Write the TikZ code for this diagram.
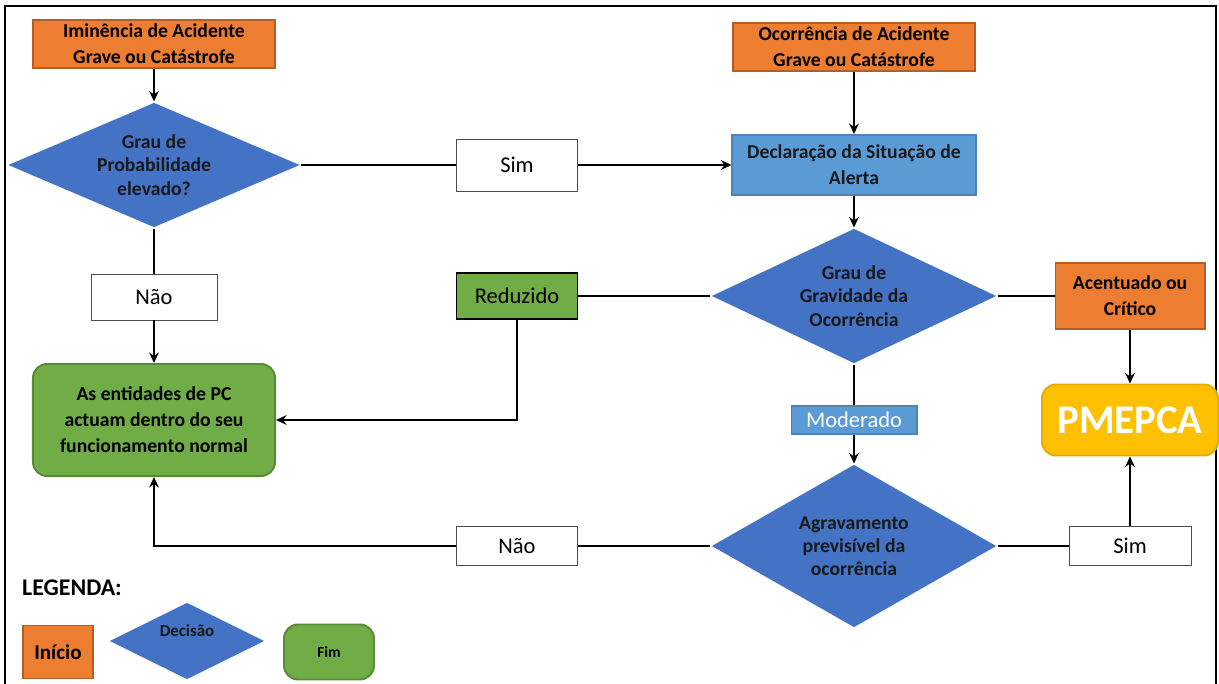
\documentclass[tikz,border=0pt]{standalone}
\usepackage{fontspec}
\setmainfont{Carlito}
\usepackage{xcolor}
\usetikzlibrary{arrows.meta,positioning,shapes.geometric}

\definecolor{iniorange}{HTML}{ED7D31}
\definecolor{decblue}{HTML}{4472C4}
\definecolor{alertblue}{HTML}{5B9BD5}
\definecolor{fimgreen}{HTML}{70AD47}
\definecolor{planyellow}{HTML}{FFC000}

\begin{document}
\begin{tikzpicture}[
  x=0.025cm, y=-0.025cm,
  font=\fontsize{14}{18.5}\selectfont\bfseries,
  startbox/.style={draw=iniorange!75!black, fill=iniorange, align=center,
                   minimum width=6.05cm, minimum height=1.2cm, inner sep=2pt},
  decbox/.style={diamond, fill=decblue, align=center, inner sep=0pt,
                 text=black!90, font=\fontsize{14}{16.5}\selectfont\bfseries},
  answer/.style={draw=black!70, fill=white, line width=0.6pt,
                 font=\fontsize{16}{19}\selectfont, minimum width=3.025cm},
  endbox/.style={draw=fimgreen!80!black, fill=fimgreen, rounded corners=10pt,
                 align=center},
  >={Stealth[length=2.6mm,width=2.4mm]}, line width=1.4pt]
  \def\cL{154}\def\cM{517}\def\cR{854}\def\cP{1130}
  \useasboundingbox (0,0) rectangle (1219,684);
  \draw[line width=1.2pt] (5,684) -- (5,6) -- (1216,6) -- (1216,684);
  % top row
  \node[startbox] (imin) at (\cL,44) {Iminência de Acidente\\Grave ou Catástrofe};
  \node[startbox] (ocor) at (\cR,47) {Ocorrência de Acidente\\Grave ou Catástrofe};
  \node[decbox, minimum width=7.3cm, minimum height=3.125cm, shape aspect=2.34]
        (prob) at (\cL,165) {Grau de\\Probabilidade\\elevado?};
  \node[answer, minimum height=1.3cm] (sim1) at (\cM,165) {Sim};
  \node[draw=alertblue!85!black, fill=alertblue, align=center, text=black!90,
        minimum width=6.075cm, minimum height=1.5cm] (alerta) at (\cR,165)
        {Declaração da Situação de\\Alerta};
  % middle row
  \node[answer, minimum width=3.15cm, minimum height=1.15cm] (nao1) at (\cL,297) {Não};
  \node[answer, draw=black, fill=fimgreen, line width=1.2pt, minimum height=1.15cm]
        (reduz) at (\cM,296) {Reduzido};
  \node[decbox, minimum width=7.125cm, minimum height=3.375cm, shape aspect=2.1]
        (grav) at (\cR,296) {Grau de\\Gravidade da\\Ocorrência};
  \node[startbox, minimum width=3.725cm, minimum height=1.65cm] (acent) at (\cP,296)
        {Acentuado ou\\Crítico};
  \node[endbox, minimum width=6.05cm, minimum height=2.8cm] (normal) at (\cL,420)
        {As entidades de PC\\actuam dentro do seu\\funcionamento normal};
  \node[draw=alertblue!85!black, fill=alertblue, text=white,
        font=\fontsize{16}{19}\selectfont, minimum width=3.125cm,
        minimum height=0.7cm, inner sep=1pt] (moder) at (\cR,420) {Moderado};
  \node[draw=planyellow!90!black, fill=planyellow, text=white, rounded corners=10pt,
        font=\fontsize{29}{33}\selectfont\bfseries, minimum width=4.4cm,
        minimum height=1.775cm] (plano) at (\cP,420) {PMEPCA};
  % bottom row
  \node[decbox, minimum width=7.125cm, minimum height=4.075cm, shape aspect=1.75]
        (agrav) at (\cR,546) {Agravamento\\previsível da\\ocorrência};
  \node[answer, minimum height=0.975cm] (nao2) at (\cM,546) {Não};
  \node[answer, minimum width=3.05cm, minimum height=0.975cm] (sim2) at (\cP,546) {Sim};
  % connectors
  \draw[->] (imin) -- (prob);
  \draw (prob) -- (sim1);
  \draw[->] (sim1) -- (alerta);
  \draw[->] (ocor) -- (alerta);
  \draw[->] (alerta) -- (grav);
  \draw (prob) -- (nao1);
  \draw[->] (nao1) -- (normal);
  \draw (grav) -- (reduz);
  \draw[->] (reduz.south) |- (normal.east);
  \draw (grav) -- (acent);
  \draw[->] (acent) -- (plano);
  \draw (grav) -- (moder);
  \draw[->] (moder) -- (agrav);
  \draw (agrav) -- (nao2);
  \draw[->] (nao2.west) -| (normal.south);
  \draw (agrav) -- (sim2);
  \draw[->] (sim2) -- (plano);
  % legend
  \node[font=\fontsize{17}{20}\selectfont\bfseries] (leg) at (72,588) {LEGENDA:};
  \node[draw=iniorange!75!black, fill=iniorange, font=\fontsize{15}{18}\selectfont\bfseries,
        minimum width=1.75cm, minimum height=1.325cm, inner sep=1pt] (legini) at (58,652) {Início};
  \node[decbox, minimum width=3.875cm, minimum height=1.925cm, shape aspect=2,
        font=\fontsize{12}{14}\selectfont\bfseries, text height=8pt, text depth=14pt]
        (legdec) at (187,641) {Decisão};
  \node[endbox, minimum width=2.25cm, minimum height=1.375cm,
        font=\fontsize{11}{13}\selectfont\bfseries] (legfim) at (329,652) {Fim};
\end{tikzpicture}
\end{document}
